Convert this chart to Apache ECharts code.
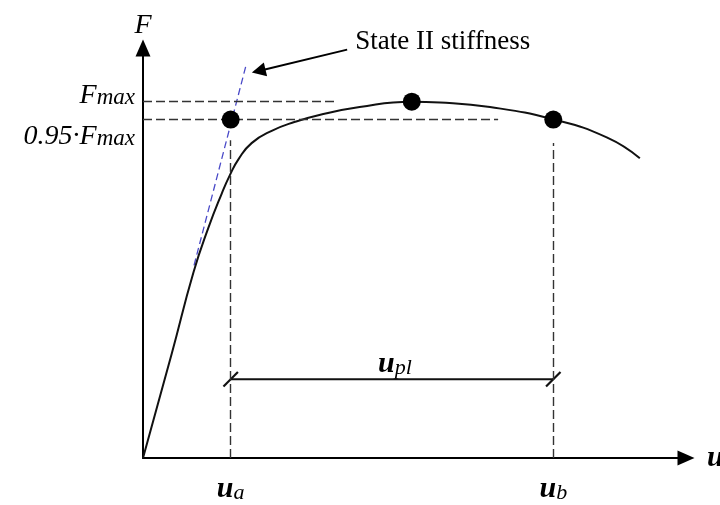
<!DOCTYPE html>
<html>
<head>
<meta charset="utf-8">
<script src="https://cdn.jsdelivr.net/npm/echarts@6/dist/echarts.min.js"></script>
<style>
  html, body { margin: 0; padding: 0; background: #fff; }
  #chart { width: 720px; height: 505px; }
</style>
</head>
<body>
<div id="chart"></div>
<script>
// force - displacement curve, normalised units (0..100 on both axes)
var curveU = [0, 5.3, 9.3, 12.0, 14.5, 16.0, 17.6, 20.0, 23.7, 28.0, 32.3, 39.9, 49.5, 54.7, 63.9, 75.5, 85.4, 91.5];
var curveF = [0, 25.5, 45.3, 56.0, 64.5, 69.0, 72.9, 76.8, 79.8, 82.0, 83.6, 85.6, 86.9, 86.7, 85.6, 82.6, 78.2, 73.1];

var fMax = 86.9;
var f95 = 82.55;      // 0.95 * Fmax
var uA = 16.15;
var uB = 75.56;
var uAtFmax = 49.5;

// state II stiffness (blue dashed tangent)
var stiffU = [9.4, 19.0];
var stiffF = [47.0, 95.9];
// pointer from the note to the tangent
var noteU = [37.6, 21.3];
var noteF = [99.6, 94.4];

var uplLevel = 19.2;          // height of the u_pl dimension line
var fMaxLineEnd = 35.7;       // where the dashed Fmax line stops
var f95LineEnd = 65.4;
var uALineTop = 77.5;
var uBLineTop = 76.8;

var serif = 'Liberation Serif';
var dashStyle = { color: '#333', width: 1.4, type: [9, 4] };

function pairs(xs, ys) {
    var res = [];
    for (var i = 0; i < xs.length; i++) {
        res.push([xs[i], ys[i]]);
    }
    return res;
}

var richText = {
    m: { fontFamily: serif, fontStyle: 'italic', fontSize: 28, color: '#000', verticalAlign: 'bottom' },
    s: { fontFamily: serif, fontStyle: 'italic', fontSize: 23, color: '#000', verticalAlign: 'bottom' },
    u: { fontFamily: serif, fontStyle: 'italic', fontWeight: 'bold', fontSize: 30, color: '#000', verticalAlign: 'bottom' },
    us: { fontFamily: serif, fontStyle: 'italic', fontSize: 22, color: '#000', verticalAlign: 'bottom' },
    n: { fontFamily: serif, fontSize: 27, color: '#000' }
};

const chart = echarts.init(document.getElementById('chart'), null, { renderer: 'canvas' });

const option = {
    backgroundColor: '#fff',
    animation: false,
    grid: { left: 143, right: 34, top: 48, bottom: 47, containLabel: false, outerBoundsMode: 'none' },
    xAxis: {
        type: 'value',
        min: 0,
        max: 100,
        name: 'u',
        nameLocation: 'end',
        nameGap: 21,
        nameTextStyle: { fontFamily: serif, fontStyle: 'italic', fontWeight: 'bold', fontSize: 30, color: '#000' },
        axisLine: {
            show: true,
            onZero: false,
            symbol: ['none', 'triangle'],
            symbolSize: [15, 17],
            lineStyle: { color: '#000', width: 2 }
        },
        axisTick: { show: false },
        axisLabel: { show: false },
        splitLine: { show: false }
    },
    yAxis: {
        type: 'value',
        min: 0,
        max: 100,
        name: 'F',
        nameLocation: 'end',
        nameGap: 8,
        nameTextStyle: { fontFamily: serif, fontStyle: 'italic', fontSize: 28, color: '#000' },
        axisLine: {
            show: true,
            onZero: false,
            symbol: ['none', 'triangle'],
            symbolSize: [15, 17],
            lineStyle: { color: '#000', width: 2 }
        },
        axisTick: { show: false },
        axisLabel: { show: false },
        splitLine: { show: false }
    },
    series: [
        {
            // dashed guide lines
            type: 'line',
            data: [],
            silent: true,
            markLine: {
                silent: true,
                symbol: ['none', 'none'],
                label: { show: false },
                lineStyle: dashStyle,
                data: [
                    [{ coord: [0, fMax] }, { coord: [fMaxLineEnd, fMax] }],
                    [{ coord: [0, f95] }, { coord: [f95LineEnd, f95] }],
                    [{ coord: [uA, 0] }, { coord: [uA, uALineTop] }],
                    [{ coord: [uB, 0] }, { coord: [uB, uBLineTop] }]
                ]
            }
        },
        {
            // State II stiffness
            type: 'line',
            data: pairs(stiffU, stiffF),
            symbol: 'none',
            silent: true,
            lineStyle: { color: '#4a4ac8', width: 1.3, type: [7, 4] }
        },
        {
            // F-u curve
            type: 'line',
            data: pairs(curveU, curveF),
            smooth: 0.5,
            symbol: 'none',
            silent: true,
            lineStyle: { color: '#111', width: 2 },
            z: 3
        },
        {
            // u_pl dimension line
            type: 'line',
            data: [[uA, uplLevel], [uB, uplLevel]],
            symbol: 'path://M0,15 L15,0 L16.6,1.6 L1.6,16.6 Z',
            symbolSize: 16,
            showSymbol: true,
            silent: true,
            itemStyle: { color: '#111', opacity: 1 },
            lineStyle: { color: '#111', width: 2 }
        },
        {
            // pointer arrow to the tangent
            type: 'line',
            data: [],
            silent: true,
            markLine: {
                silent: true,
                symbol: ['none', 'triangle'],
                symbolSize: 14,
                label: { show: false },
                itemStyle: { color: '#000' },
                lineStyle: { color: '#000', width: 2, type: 'solid' },
                data: [
                    [{ coord: [noteU[0], noteF[0]] }, { coord: [noteU[1], noteF[1]] }]
                ]
            }
        },
        {
            // characteristic points
            type: 'scatter',
            data: [[uA, f95], [uAtFmax, fMax], [uB, f95]],
            symbol: 'circle',
            symbolSize: 18,
            silent: true,
            itemStyle: { color: '#000', opacity: 1 },
            z: 5
        },
        {
            // text labels
            type: 'scatter',
            symbolSize: 0,
            silent: true,
            clip: false,
            itemStyle: { opacity: 1 },
            label: { show: true, rich: richText },
            data: [
                { value: [0, fMax], label: { position: 'left', distance: 8, offset: [0, -6], formatter: '{m|F}{s|max}' } },
                { value: [0, f95], label: { position: 'left', distance: 8, offset: [0, 17], formatter: '{m|0.95·F}{s|max}' } },
                { value: [uA, 0], label: { position: 'bottom', distance: 16, formatter: '{u|u}{us|a}' } },
                { value: [uB, 0], label: { position: 'bottom', distance: 16, formatter: '{u|u}{us|b}' } },
                { value: [(uA + uB) / 2, uplLevel], label: { position: 'top', distance: 0, offset: [3, 0], formatter: '{u|u}{us|pl}' } },
                { value: [noteU[0], noteF[0]], label: { position: 'right', distance: 8, offset: [0, -8], formatter: '{n|State II stiffness}' } }
            ]
        }
    ]
};

chart.setOption(option);
</script>
</body>
</html>
